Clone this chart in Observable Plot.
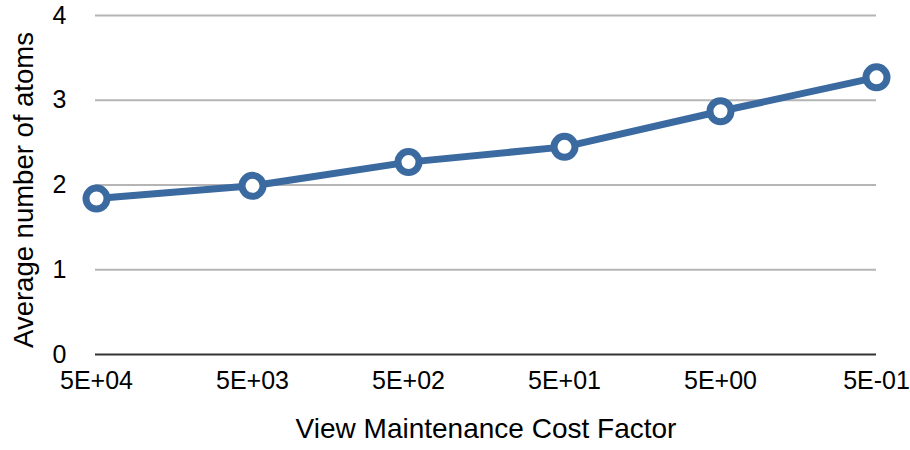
<!DOCTYPE html>
<html>
<head>
<meta charset="utf-8">
<script src="https://cdn.jsdelivr.net/npm/d3@7"></script>
<script src="https://cdn.jsdelivr.net/npm/@observablehq/plot@0.6"></script>
<style>
  html, body { margin: 0; padding: 0; background: #fff; }
  #chart svg { display: block; }
</style>
</head>
<body>
<div id="chart"></div>
<script>
const categories = ["5E+04", "5E+03", "5E+02", "5E+01", "5E+00", "5E-01"];
const values = [1.84, 1.99, 2.27, 2.45, 2.87, 3.27];
const yTicks = [0, 1, 2, 3, 4];

const data = categories.map((c, i) => ({cat: c, val: values[i]}));
const color = "#3b6aa0";

const chart = Plot.plot({
  width: 910,
  height: 450,
  marginLeft: 95,
  marginRight: 34,
  marginTop: 15,
  marginBottom: 96,
  style: {fontFamily: "'Liberation Sans', Arial, sans-serif", fontSize: "25px", color: "#000", background: "#fff"},
  x: {type: "point", domain: categories, padding: 0},
  y: {domain: [0, 4]},
  marks: [
    Plot.ruleY(yTicks.filter(d => d > 0), {stroke: "#b5b5b5", strokeWidth: 2}),
    Plot.ruleY([0], {stroke: "#333", strokeWidth: 2}),
    Plot.axisY({ticks: yTicks, tickSize: 0, tickPadding: 29, tickFormat: d => String(d), fontSize: 25, label: null}),
    Plot.axisX({tickSize: 0, tickPadding: 17, fontSize: 25, label: null}),
    Plot.text(["Average number of atoms"], {frameAnchor: "left", textAnchor: "middle", dx: -71, dy: 5, rotate: -90, fontSize: 27.5, fill: "#000"}),
    Plot.text(["View Maintenance Cost Factor"], {frameAnchor: "bottom", dy: 83, fontSize: 28, fill: "#000"}),
    Plot.line(data, {x: "cat", y: "val", stroke: color, strokeWidth: 7, strokeLinejoin: "round"}),
    Plot.dot(data, {x: "cat", y: "val", r: 10.5, fill: "#fff", stroke: color, strokeWidth: 7})
  ]
});
document.getElementById("chart").appendChild(chart);
</script>
</body>
</html>
